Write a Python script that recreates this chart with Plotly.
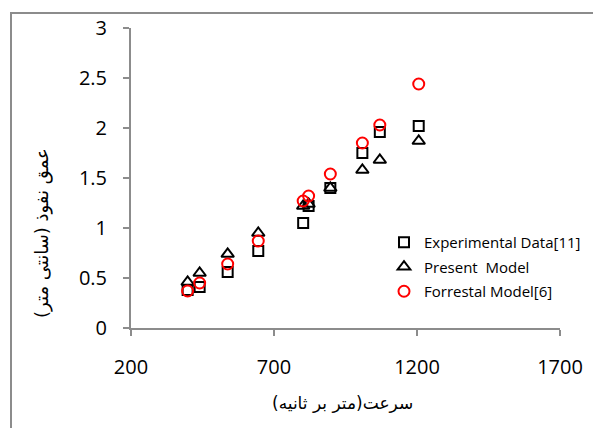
import plotly.graph_objects as go

velocity = [398, 440, 538, 645, 802, 821, 897, 1009, 1070, 1206]
experimental = [0.38, 0.41, 0.56, 0.77, 1.05, 1.22, 1.40, 1.75, 1.96, 2.02]
present_model = [0.46, 0.55, 0.74, 0.95, 1.22, 1.24, 1.40, 1.58, 1.68, 1.87]
forrestal = [0.37, 0.45, 0.64, 0.87, 1.27, 1.32, 1.54, 1.85, 2.03, 2.44]

series_names = ["Experimental Data[11]", "Present  Model", "Forrestal Model[6]"]
x_title = "سرعت(متر بر ثانیه)"
y_title = "عمق نفوذ (سانتی متر)"

W, H = 593, 428
L, R, T, B = 131, 33, 28, 100
pw, ph = W - L - R, H - T - B

fig = go.Figure()
fig.add_trace(go.Scatter(x=velocity, y=experimental, mode="markers", name=series_names[0], legendgroup="a",
                         marker=dict(symbol="square-open", size=10, color="black", line=dict(width=2, color="black"))))
fig.add_trace(go.Scatter(x=velocity, y=present_model, mode="markers", name=series_names[1], legendgroup="b",
                         marker=dict(symbol="triangle-up-open", size=11, color="black", line=dict(width=2, color="black"))))
fig.add_trace(go.Scatter(x=velocity, y=forrestal, mode="markers", name=series_names[2], legendgroup="c",
                         marker=dict(symbol="circle-open", size=11, color="#ff0000", line=dict(width=2, color="#ff0000"))))

axis_common = dict(showline=True, linecolor="#8c8c8c", linewidth=2, ticks="outside", ticklen=6,
                   tickcolor="#8c8c8c", tickwidth=2, showgrid=False, zeroline=False, automargin=False,
                   tickfont=dict(family="Open Sans", size=20, color="black"))

fig.update_xaxes(range=[200, 1700], dtick=500, tick0=200, ticklabelstandoff=14, **axis_common)
fig.update_yaxes(range=[0, 3], dtick=0.5, tick0=0, ticklabelstandoff=12, **axis_common)

def px_x(p):
    return (p - L) / pw

def px_y(p):
    return (H - B - p) / ph

fig.add_shape(type="rect", xref="paper", yref="paper",
              x0=px_x(11), x1=px_x(600), y0=px_y(440), y1=px_y(13),
              line=dict(color="#8c8c8c", width=2), fillcolor="rgba(0,0,0,0)", layer="below")

fig.add_annotation(text=x_title, xref="paper", yref="paper", x=px_x(342), y=px_y(403),
                   showarrow=False, font=dict(family="DejaVu Sans", size=17, color="black"),
                   xanchor="center", yanchor="middle")
fig.add_annotation(text=y_title, xref="paper", yref="paper", x=px_x(42), y=px_y(233),
                   showarrow=False, textangle=-90, font=dict(family="DejaVu Sans", size=18, color="black"),
                   xanchor="center", yanchor="middle")

fig.update_layout(
    width=W, height=H,
    margin=dict(l=L, r=R, t=T, b=B, autoexpand=False),
    paper_bgcolor="white", plot_bgcolor="white",
    showlegend=True,
    legend=dict(x=px_x(384), y=px_y(226), xanchor="left", yanchor="top",
                font=dict(family="Open Sans", size=15, color="black"),
                bgcolor="rgba(0,0,0,0)", tracegroupgap=2),
)

fig.write_html("out.html")
